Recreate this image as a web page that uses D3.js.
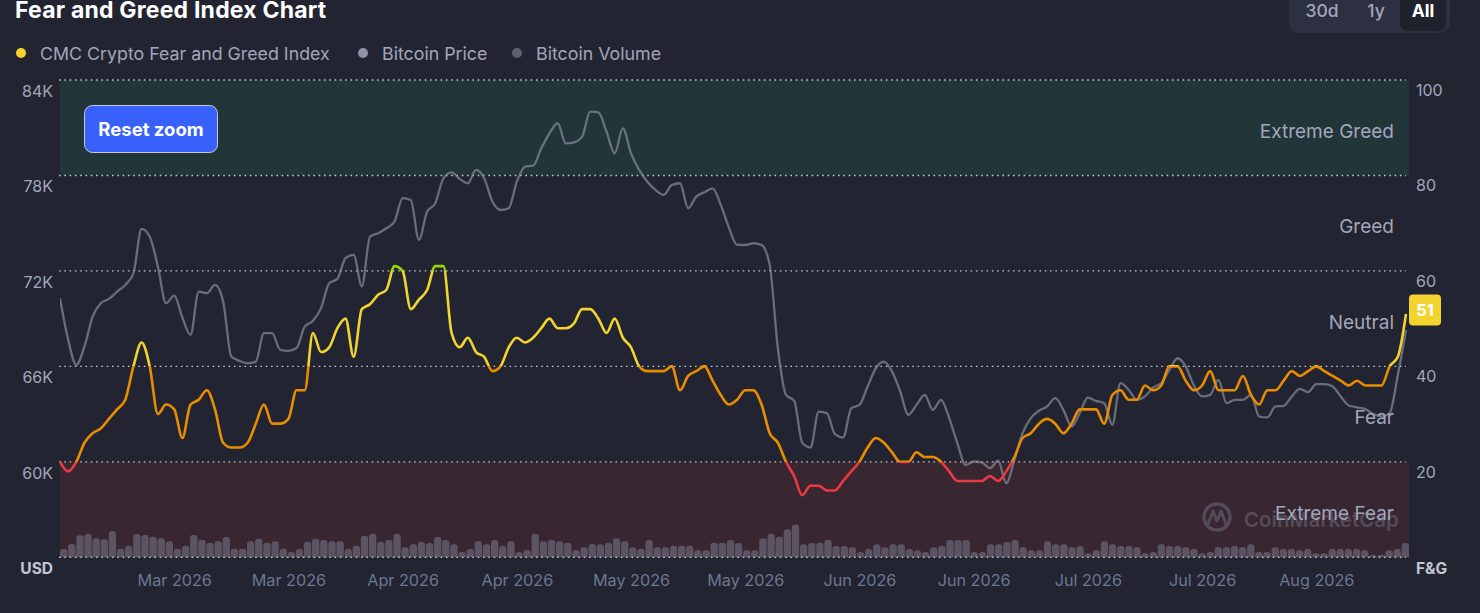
<!DOCTYPE html>
<html>
<head>
<meta charset="utf-8">
<script src="https://cdn.jsdelivr.net/npm/d3@7"></script>
<style>
  html, body { margin: 0; padding: 0; background: #222531; }
  svg { display: block; font-family: Inter, "Noto Sans", sans-serif; }
</style>
</head>
<body>
<svg id="chart" width="1480" height="613"></svg>
<script>
// datos: un punto por dia desde el 1 de marzo 2026
const startDate = "2026-03-01";

const fearGreed = [
  20, 18, 20, 24, 26, 27, 29, 31, 33, 40, 45, 40, 30, 32, 31, 25, 32, 33, 35, 31,
  24, 23, 23, 24, 28, 32, 28, 28, 29, 35, 35, 47, 43, 44, 48, 50, 42, 52, 53, 55,
  56, 61, 60, 52, 54, 56, 61, 61, 47, 44, 46, 43, 42, 39, 40, 44, 46, 45, 46, 48,
  50, 48, 48, 49, 52, 52, 50, 47, 50, 46, 44, 40, 39, 39, 39, 40, 35, 38, 39, 40,
  37, 34, 32, 33, 35, 35, 32, 26, 24, 20, 17, 13, 15, 15, 14, 14, 16, 18, 20, 23,
  25, 24, 22, 20, 20, 22, 21, 21, 20, 18, 16, 16, 16, 16, 17, 16, 18, 21, 25, 26,
  28, 29, 28, 26, 28, 31, 31, 31, 28, 34, 35, 33, 33, 36, 35, 36, 40, 40, 37, 35,
  36, 39, 35, 35, 35, 38, 34, 32, 35, 35, 37, 39, 38, 39, 40, 39, 38, 37, 36, 37,
  36, 36, 36, 40, 42, 51
];

const btcPrice = [
  70280, 67670, 66100, 67250, 69130, 69970, 70240, 70700, 71120, 71850,
  74640, 74160, 72270, 69970, 70450, 69070, 67980, 70700, 70600, 71120,
  70070, 66620, 66350, 66200, 66300, 68090, 68090, 67040, 66980, 67150,
  68500, 68860, 69660, 71230, 71500, 72800, 73010, 71020, 74160, 74370,
  74680, 75100, 76570, 76460, 73950, 75730, 76250, 77820, 78200, 77780,
  77510, 78350, 77820, 76360, 75830, 75940, 77610, 78560, 78620, 79710,
  80650, 81280, 80020, 80080, 80440, 82010, 81970, 80750, 79390, 80960,
  79390, 78350, 77610, 77090, 76780, 77400, 77510, 75940, 76670, 76940,
  77190, 76150, 74720, 73640, 73630, 73740, 73630, 72380, 67140, 64210,
  63830, 61180, 60900, 63160, 63060, 61740, 61530, 63370, 63580, 64730,
  65880, 66300, 65670, 64420, 62950, 63580, 64210, 63270, 63900, 62750,
  61180, 59810, 60020, 59960, 59600, 60070, 58660, 60130, 61800, 62750,
  63210, 63480, 64000, 63270, 62220, 63060, 64040, 63830, 63690, 62330,
  64950, 64530, 63900, 64110, 64670, 64950, 65780, 66510, 65990, 64800,
  64110, 64210, 65150, 63690, 63900, 63900, 64210, 62850, 62790, 63480,
  63520, 64110, 64590, 64380, 64880, 64880, 64740, 64110, 63540, 63420,
  63310, 63000, 62850, 63060, 65460, 68290
];

// volumen en miles de millones USD
const btcVolume = [
  25, 40, 66, 71, 57, 54, 79, 26, 35, 70, 67, 62, 57, 48, 26, 35, 67, 53, 44, 48,
  61, 26, 26, 48, 56, 44, 48, 26, 16, 25, 47, 56, 52, 48, 48, 25, 35, 65, 71, 47,
  52, 71, 30, 39, 47, 43, 61, 52, 39, 16, 25, 48, 39, 52, 34, 48, 16, 22, 71, 48,
  53, 48, 44, 21, 30, 40, 39, 44, 57, 48, 30, 26, 52, 30, 30, 35, 35, 35, 21, 21,
  44, 44, 52, 43, 21, 21, 57, 71, 62, 84, 98, 39, 43, 44, 53, 34, 34, 30, 16, 25,
  39, 30, 39, 39, 25, 21, 16, 30, 34, 52, 52, 52, 16, 16, 39, 39, 46, 52, 30, 21,
  21, 48, 39, 39, 30, 34, 12, 21, 48, 39, 34, 34, 30, 12, 16, 39, 34, 34, 30, 25,
  12, 16, 30, 30, 34, 30, 39, 16, 16, 30, 25, 25, 21, 25, 12, 12, 25, 25, 25, 25,
  21, 8, 8, 21, 25, 43
];

const tickDates = ["2026-03-15", "2026-03-29", "2026-04-12", "2026-04-26", "2026-05-10", "2026-05-24",
                   "2026-06-07", "2026-06-21", "2026-07-05", "2026-07-19", "2026-08-02"];
const priceTicks = [60000, 66000, 72000, 78000, 84000];
const fgTicks = [20, 40, 60, 80, 100];

const zones = [
  {name: "Extreme Fear", from: 0, to: 20, color: "#ea3943"},
  {name: "Fear", from: 20, to: 40, color: "#ea8c00"},
  {name: "Neutral", from: 40, to: 60, color: "#f3d42f"},
  {name: "Greed", from: 60, to: 80, color: "#93d900"},
  {name: "Extreme Greed", from: 80, to: 100, color: "#16c784"}
];

const legendItems = [
  {label: "CMC Crypto Fear and Greed Index", color: "#f3d42f", x: 21},
  {label: "Bitcoin Price", color: "#8d93a5", x: 363},
  {label: "Bitcoin Volume", color: "#5b6071", x: 517}
];

// ---- escalas ----
const parse = d3.timeParse("%Y-%m-%d");
const day0 = parse(startDate);
const dates = fearGreed.map((_, i) => d3.timeDay.offset(day0, i));

const plot = {left: 60, right: 1409, top: 80, bottom: 557.3};

const x = d3.scaleTime()
  .domain([dates[0], dates[dates.length - 1]])
  .range([plot.left, 1406]);

const xBar = d3.scaleBand()
  .domain(dates.map(d => +d))
  .range([plot.left, plot.right])
  .paddingInner(0.1);

const yFG = d3.scaleLinear().domain([0, 100]).range([plot.bottom, plot.top]);
const yPrice = d3.scaleLinear().domain([54000, 84000]).range([plot.bottom, plot.top]);
const yVol = d3.scaleLinear().domain([0, 300]).range([plot.bottom, plot.bottom - 100]);

const svg = d3.select("#chart");
const defs = svg.append("defs");

defs.append("clipPath").attr("id", "plot-clip")
  .append("rect")
  .attr("x", plot.left).attr("y", plot.top)
  .attr("width", plot.right - plot.left).attr("height", plot.bottom - plot.top);

// degradado con cortes duros segun la zona del indice
const grad = defs.append("linearGradient")
  .attr("id", "fg-grad")
  .attr("gradientUnits", "userSpaceOnUse")
  .attr("x1", 0).attr("x2", 0)
  .attr("y1", yFG(0)).attr("y2", yFG(100));
zones.forEach(z => {
  grad.append("stop").attr("offset", z.from / 100).attr("stop-color", z.color);
  grad.append("stop").attr("offset", z.to / 100).attr("stop-color", z.color);
});

// ---- titulo, leyenda, botones ----
svg.append("text")
  .attr("x", 15).attr("y", 18)
  .attr("fill", "#ffffff").attr("font-size", 23).attr("font-weight", 700)
  .attr("letter-spacing", 0.2)
  .text("Fear and Greed Index Chart");

const leg = svg.append("g");
legendItems.forEach(l => {
  leg.append("circle").attr("cx", l.x).attr("cy", 53).attr("r", 5).attr("fill", l.color);
  leg.append("text").attr("x", l.x + 19).attr("y", 59.5)
    .attr("fill", "#a1a7bb").attr("font-size", 17.8).text(l.label);
});

const btns = svg.append("g");
btns.append("rect").attr("x", 1289).attr("y", -14).attr("width", 161).attr("height", 47)
  .attr("rx", 10).attr("fill", "#2d3040");
btns.append("rect").attr("x", 1400).attr("y", -10).attr("width", 46).attr("height", 41)
  .attr("rx", 8).attr("fill", "#1f212c");
[["30d", 1322, false], ["1y", 1376, false], ["All", 1423, true]].forEach(([t, cx, on]) => {
  btns.append("text").attr("x", cx).attr("y", 17).attr("text-anchor", "middle")
    .attr("font-size", 17.5).attr("font-weight", on ? 700 : 500)
    .attr("fill", on ? "#ffffff" : "#a1a7bb").text(t);
});

// ---- bandas y rejilla ----
const bands = svg.append("g");
bands.append("rect")
  .attr("x", plot.left).attr("width", plot.right - plot.left)
  .attr("y", yFG(100)).attr("height", yFG(80) - yFG(100))
  .attr("fill", "#22363a");
bands.append("rect")
  .attr("x", plot.left).attr("width", plot.right - plot.left)
  .attr("y", yFG(20)).attr("height", yFG(0) - yFG(20))
  .attr("fill", "#382631");

svg.append("g")
  .selectAll("line")
  .data([0, 20, 40, 60, 80, 100])
  .join("line")
  .attr("x1", plot.left - 1).attr("x2", plot.right - 3)
  .attr("y1", d => yFG(d)).attr("y2", d => yFG(d))
  .attr("stroke", "#c4c7d0").attr("stroke-width", 1.4)
  .attr("stroke-dasharray", "1.6 3.7");

// ---- volumen ----
svg.append("g")
  .attr("clip-path", "url(#plot-clip)")
  .selectAll("rect")
  .data(btcVolume)
  .join("rect")
  .attr("x", (d, i) => xBar(+dates[i]))
  .attr("width", xBar.bandwidth())
  .attr("y", d => yVol(d))
  .attr("height", d => plot.bottom - yVol(d) + 4)
  .attr("rx", 3)
  .attr("fill", "#8a8fa0").attr("fill-opacity", 0.45);

// marca de agua
const wm = svg.append("g").attr("opacity", 0.35);
wm.append("circle").attr("cx", 1217).attr("cy", 517).attr("r", 13)
  .attr("fill", "none").attr("stroke", "#8a8fa0").attr("stroke-width", 3.5);
wm.append("path")
  .attr("d", "M1208,524 L1213,511 L1217,521 L1221,511 L1226,524")
  .attr("fill", "none").attr("stroke", "#8a8fa0").attr("stroke-width", 3)
  .attr("stroke-linejoin", "round").attr("stroke-linecap", "round");
wm.append("text").attr("x", 1244).attr("y", 527)
  .attr("font-size", 20.5).attr("font-weight", 600).attr("fill", "#8a8fa0")
  .text("CoinMarketCap");

// ---- lineas ----
const priceLine = d3.line()
  .x((d, i) => x(dates[i]))
  .y(d => yPrice(d))
  .curve(d3.curveMonotoneX);

svg.append("path")
  .datum(btcPrice)
  .attr("clip-path", "url(#plot-clip)")
  .attr("d", priceLine)
  .attr("fill", "none")
  .attr("stroke", "#868b9c").attr("stroke-opacity", 0.7)
  .attr("stroke-width", 2.3);

const fgLine = d3.line()
  .x((d, i) => x(dates[i]))
  .y(d => yFG(d))
  .curve(d3.curveMonotoneX);

svg.append("path")
  .datum(fearGreed)
  .attr("d", fgLine)
  .attr("fill", "none")
  .attr("stroke", "url(#fg-grad)")
  .attr("stroke-width", 2.6)
  .attr("stroke-linejoin", "round");

// etiquetas de zona
svg.append("g")
  .selectAll("text")
  .data(zones)
  .join("text")
  .attr("x", 1394)
  .attr("y", d => yFG((d.from + d.to) / 2) + 10)
  .attr("text-anchor", "end")
  .attr("font-size", 19)
  .attr("fill", "#a1a7bb")
  .text(d => d.name);

// ---- ejes ----
const axisColor = "#a1a7bb";

const gLeft = svg.append("g")
  .attr("transform", `translate(${plot.left},0)`)
  .call(d3.axisLeft(yPrice).tickValues(priceTicks).tickSize(0).tickPadding(7)
    .tickFormat(d => d / 1000 + "K"));
gLeft.select(".domain").remove();
gLeft.selectAll("text").attr("dy", 11 + 5.5).attr("fill", axisColor)
  .attr("font-size", 16).attr("font-family", "Inter, sans-serif");

const gRight = svg.append("g")
  .attr("transform", `translate(${plot.right},0)`)
  .call(d3.axisRight(yFG).tickValues(fgTicks).tickSize(0).tickPadding(7));
gRight.select(".domain").remove();
gRight.selectAll("text").attr("dy", 10 + 5.5).attr("fill", axisColor)
  .attr("font-size", 16).attr("font-family", "Inter, sans-serif");

const gBottom = svg.append("g")
  .attr("transform", `translate(0,${plot.bottom})`)
  .call(d3.axisBottom(x).tickValues(tickDates.map(parse)).tickSize(0).tickPadding(17.5)
    .tickFormat(d3.timeFormat("%b %Y")));
gBottom.select(".domain").remove();
gBottom.selectAll("text").attr("fill", "#6c7690")
  .attr("font-size", 16.2).attr("font-family", "Inter, sans-serif");

svg.append("text").attr("x", 53).attr("y", 573.5).attr("text-anchor", "end")
  .attr("font-size", 15.5).attr("font-weight", 700).attr("fill", "#c3c7d2").text("USD");
svg.append("text").attr("x", 1416).attr("y", 573.5)
  .attr("font-size", 15.5).attr("font-weight", 700).attr("fill", "#c3c7d2").text("F&G");

// valor actual
const last = fearGreed[fearGreed.length - 1];
const badge = svg.append("g").attr("transform", `translate(1409,${yFG(last) - 4})`);
badge.append("rect").attr("x", 0).attr("y", -15.5).attr("width", 32).attr("height", 31)
  .attr("rx", 4).attr("fill", "#f3d42f");
badge.append("text").attr("x", 16).attr("y", 6).attr("text-anchor", "middle")
  .attr("font-size", 16.5).attr("font-weight", 700).attr("fill", "#ffffff").text(last);

// boton reset zoom
const rz = svg.append("g");
rz.append("rect").attr("x", 84.5).attr("y", 105.5).attr("width", 133).attr("height", 47)
  .attr("rx", 8).attr("fill", "#3861fb").attr("stroke", "#c8cbd4").attr("stroke-width", 1);
rz.append("text").attr("x", 151).attr("y", 135.5).attr("text-anchor", "middle")
  .attr("font-size", 18.5).attr("font-weight", 700).attr("fill", "#ffffff").text("Reset zoom");
</script>
</body>
</html>
